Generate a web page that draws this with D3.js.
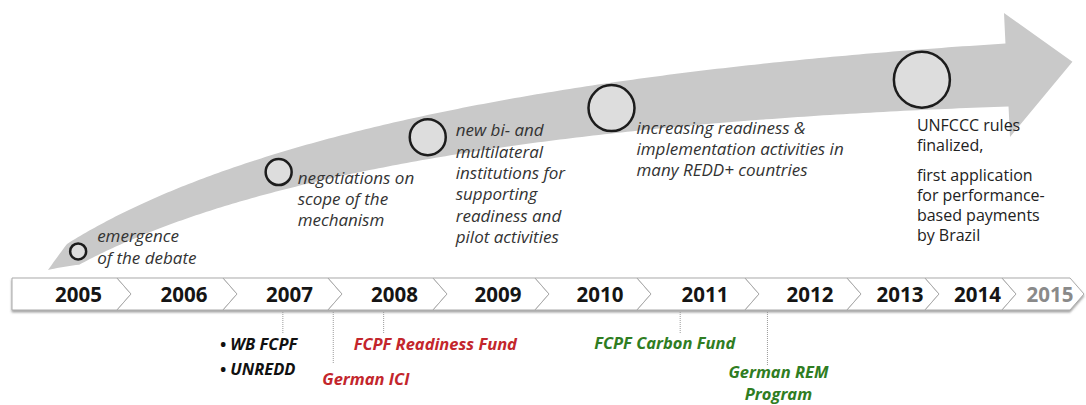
<!DOCTYPE html>
<html>
<head>
<meta charset="utf-8">
<script src="https://cdn.jsdelivr.net/npm/d3@7"></script>
<style>
  html, body { margin: 0; padding: 0; background: #fff; }
  #chart { width: 1086px; height: 405px; overflow: hidden; }
</style>
</head>
<body>
<div id="chart"></div>
<script>
// timeline years
const years = [2005, 2006, 2007, 2008, 2009, 2010, 2011, 2012, 2013, 2014, 2015];
const futureYears = [2015];

// milestones along the arrow (time in fractional years, stage 1..5)
const milestoneYears = [2005.13, 2007.03, 2008.45, 2010.25, 2013.46];
const milestoneStage = [1, 2, 3, 4, 5];
const milestoneText = [
  ["emergence", "of the debate"],
  ["negotiations on", "scope of the", "mechanism"],
  ["new bi- and", "multilateral", "institutions for", "supporting", "readiness and", "pilot activities"],
  ["increasing readiness &", "implementation activities in", "many REDD+ countries"],
  ["UNFCCC rules", "finalized,", "", "first application", "for performance-", "based payments", "by Brazil"]
];

// funds below the timeline
const fundYears = [2007.07, 2007.55, 2008.03, 2010.9, 2011.72];
const fundLabels = [["• WB FCPF", "• UNREDD"], ["German ICI"], ["FCPF Readiness Fund"], ["FCPF Carbon Fund"], ["German REM", "Program"]];
const fundKind = ["launch", "readiness", "readiness", "results", "results"];

// --- layout ---
const W = 1086, H = 405;
const barTop = 278, barBot = 310, barMid = (barTop + barBot) / 2, notch = 14;
const font = "'Open Sans', Lato, sans-serif";

// cells are not equal in width, so the year scale is piecewise
const edgeYears = [2004.5].concat(years.map(y => y + 0.5));
const x = d3.scaleLinear()
  .domain(edgeYears)
  .range([12, 117, 223, 328, 433, 535, 637, 745, 847, 925, 1002, 1070]);

const r = d3.scaleLinear().domain([1, 5]).range([8, 28]);
const color = d3.scaleOrdinal()
  .domain(["launch", "readiness", "results"])
  .range(["#111111", "#c3262c", "#2f7d22"]);

// label offsets per milestone (dx from circle edge, first baseline from centre, line height)
const msLayout = [
  { dx: 11, dy: -9, lh: 22, italic: true, size: 17 },
  { dx: 6, dy: 12, lh: 21, italic: true, size: 17 },
  { dx: 10, dy: -1, lh: 21.4, italic: true, size: 17 },
  { dx: 2, dy: 26, lh: 21, italic: true, size: 17 },
  { dx: -33, dy: 51, lh: 20, italic: false, size: 16, gap: 10 }
];
const fundLayout = [
  { stem: 21, dx: -63, dy: 40, lh: 25, anchor: "start" },
  { stem: 51, dx: -11, dy: 75, lh: 23, anchor: "start" },
  { stem: 21, dx: -30, dy: 40, lh: 23, anchor: "start" },
  { stem: 21, dx: -86, dy: 39, lh: 23, anchor: "start" },
  { stem: 53, dx: 11, dy: 68, lh: 21.5, anchor: "middle" }
];

const svg = d3.select("#chart").append("svg")
  .attr("width", W).attr("height", H)
  .style("font-family", font);

const defs = svg.append("defs");
const shadow = defs.append("filter").attr("id", "shadow")
  .attr("x", "-5%").attr("y", "-30%").attr("width", "110%").attr("height", "170%");
shadow.append("feDropShadow")
  .attr("dx", 0).attr("dy", 2).attr("stdDeviation", 1.2)
  .attr("flood-color", "#555").attr("flood-opacity", 0.55);

// --- curved arrow (quadratic bezier centreline, widening band) ---
const P0 = [48, 270], P1 = [287, 110], P2 = [1007, 75];
function bez(t) {
  const a = (1 - t) * (1 - t), b = 2 * t * (1 - t), c = t * t;
  return [a * P0[0] + b * P1[0] + c * P2[0], a * P0[1] + b * P1[1] + c * P2[1]];
}
function tangent(t) {
  const dx = 2 * (1 - t) * (P1[0] - P0[0]) + 2 * t * (P2[0] - P1[0]);
  const dy = 2 * (1 - t) * (P1[1] - P0[1]) + 2 * t * (P2[1] - P1[1]);
  const l = Math.hypot(dx, dy);
  return [dx / l, dy / l];
}
const width = t => (22 + 41 * t) * Math.min(1, t / 0.05);

const ts = d3.range(0, 1.0001, 0.005);
const topEdge = [], botEdge = [];
ts.forEach(t => {
  const p = bez(t), tg = tangent(t), n = [tg[1], -tg[0]], w = width(t) / 2;
  topEdge.push([p[0] + n[0] * w, p[1] + n[1] * w]);
  botEdge.push([p[0] - n[0] * w, p[1] - n[1] * w]);
});
const C = bez(1), T = tangent(1), N = [T[1], -T[0]];
const head = [
  [C[0] + N[0] * 62, C[1] + N[1] * 62],
  [C[0] + T[0] * 66 + N[0] * 10, C[1] + T[1] * 66 + N[1] * 10],
  [C[0] - N[0] * 62, C[1] - N[1] * 62]
];
const outline = topEdge.concat(head, botEdge.slice().reverse());

svg.append("path")
  .attr("d", d3.line().curve(d3.curveLinear)(outline) + "Z")
  .attr("fill", "#c9c9c9");

// y on the arrow centreline as a function of x
const centre = ts.map(bez);
const yOnArrow = d3.scaleLinear()
  .domain(centre.map(p => p[0]))
  .range(centre.map(p => p[1]));

// --- milestones ---
const ms = milestoneYears.map((yr, i) => ({
  cx: x(yr), cy: yOnArrow(x(yr)), r: r(milestoneStage[i]), lines: milestoneText[i], lay: msLayout[i]
}));

svg.selectAll("circle.ms")
  .data(ms)
  .enter()
  .append("circle")
  .attr("class", "ms")
  .attr("cx", d => d.cx)
  .attr("cy", d => d.cy)
  .attr("r", d => d.r)
  .attr("fill", "#dddddd")
  .attr("stroke", "#1c1c1c")
  .attr("stroke-width", 2.5);

ms.forEach(d => {
  const t = svg.append("text")
    .attr("x", d.cx + d.r + d.lay.dx)
    .attr("y", d.cy + d.lay.dy)
    .style("font-size", d.lay.size + "px")
    .style("font-style", d.lay.italic ? "italic" : "normal")
    .attr("fill", d.lay.italic ? "#333" : "#222");
  let extra = 0;
  d.lines.forEach((ln, j) => {
    if (ln === "") { extra += d.lay.gap; return; }
    t.append("tspan")
      .attr("x", d.cx + d.r + d.lay.dx)
      .attr("y", d.cy + d.lay.dy + extra + j * d.lay.lh - (extra ? d.lay.lh : 0))
      .text(ln);
  });
});

// --- timeline chevrons ---
const cells = svg.append("g").attr("filter", "url(#shadow)");
cells.selectAll("path")
  .data(years)
  .enter()
  .append("path")
  .attr("d", (yr, i) => {
    const xl = x(yr - 0.5), xr = x(yr + 0.5);
    const left = i === 0 ? "" : ` L${xl + notch},${barMid}`;
    return `M${xl},${barTop} L${xr},${barTop} L${xr + notch},${barMid} L${xr},${barBot} L${xl},${barBot}${left} Z`;
  })
  .attr("fill", "#fff")
  .attr("stroke", "#aaa")
  .attr("stroke-width", 1);

svg.selectAll("text.year")
  .data(years)
  .enter()
  .append("text")
  .attr("class", "year")
  .attr("x", yr => x(yr) + notch)
  .attr("y", barMid + 8)
  .attr("text-anchor", "middle")
  .style("font-size", "20.5px")
  .style("font-weight", "bold")
  .attr("fill", yr => futureYears.includes(yr) ? "#8a8a8a" : "#151515")
  .text(yr => yr);

// --- funds ---
const funds = fundYears.map((yr, i) => ({ x: x(yr), lines: fundLabels[i], kind: fundKind[i], lay: fundLayout[i] }));

svg.selectAll("line.stem")
  .data(funds)
  .enter()
  .append("line")
  .attr("class", "stem")
  .attr("x1", d => d.x).attr("x2", d => d.x)
  .attr("y1", barBot + 2)
  .attr("y2", d => barBot + 2 + d.lay.stem)
  .attr("stroke", "#9a9a9a")
  .attr("stroke-width", 1)
  .attr("stroke-dasharray", "1,1");

funds.forEach(d => {
  const t = svg.append("text")
    .attr("text-anchor", d.lay.anchor)
    .style("font-size", "16.5px")
    .style("font-weight", "bold")
    .style("font-style", "italic")
    .attr("fill", color(d.kind));
  d.lines.forEach((ln, j) => {
    t.append("tspan")
      .attr("x", d.x + d.lay.dx)
      .attr("y", barBot + d.lay.dy + j * d.lay.lh)
      .text(ln);
  });
});
</script>
</body>
</html>
